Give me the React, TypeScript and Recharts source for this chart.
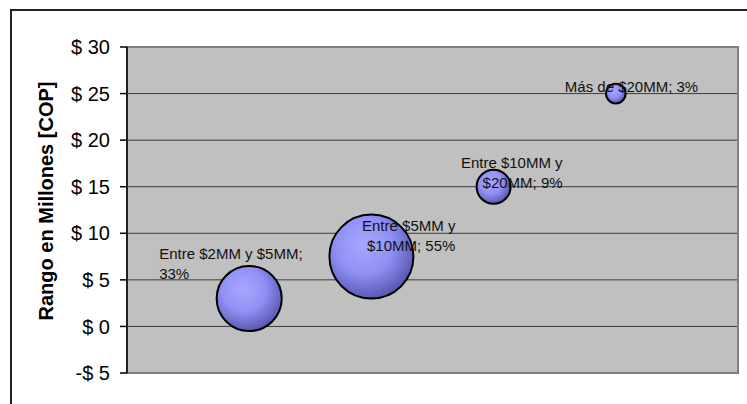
import {
  ScatterChart,
  Scatter,
  XAxis,
  YAxis,
  ZAxis,
  CartesianGrid,
  ReferenceArea,
} from 'recharts';

const CATEGORIES = [
  'Entre $2MM y $5MM',
  'Entre $5MM y $10MM',
  'Entre $10MM y $20MM',
  'Más de $20MM',
];
const X_POS = [1, 2, 3, 4];
const RANGE_MID = [3, 7.5, 15, 25];
const SHARE = [33, 55, 9, 3];
const Y_TICKS = [-5, 0, 5, 10, 15, 20, 25, 30];

// where each data label sits relative to its bubble centre
const LABEL_LAYOUT = [
  { dx: -90, dy: -39, anchor: 'start', breakAfter: 4 },
  { dx: 84, dy: -26, anchor: 'end', breakAfter: 3 },
  { dx: 69, dy: -19, anchor: 'end', breakAfter: 3 },
  { dx: -51, dy: -2, anchor: 'start', breakAfter: 0 },
];

const FONT = '"Liberation Sans", Arial, sans-serif';
const MAX_R = 42;

const data = CATEGORIES.map((name, i) => ({
  i,
  name,
  x: X_POS[i],
  y: RANGE_MID[i],
  z: SHARE[i],
}));

const formatMoney = (v: number) => (v < 0 ? `-$ ${-v}` : `$ ${v}`);

const Bubble = (props: any) => {
  const { cx, cy } = props;
  const r = props.width ? props.width / 2 : Math.sqrt((props.size ?? 0) / Math.PI);
  return (
    <circle cx={cx} cy={cy} r={r} fill="url(#bubbleFill)" stroke="#000" strokeWidth={2} />
  );
};

const BubbleLabel = (props: any) => {
  const { cx, cy, payload } = props;
  if (!payload) return null;
  const layout = LABEL_LAYOUT[payload.i];
  const words = `${payload.name}; ${payload.z}%`.split(' ');
  const lines =
    layout.breakAfter > 0
      ? [words.slice(0, layout.breakAfter).join(' '), words.slice(layout.breakAfter).join(' ')]
      : [words.join(' ')];
  return (
    <text
      x={cx + layout.dx}
      y={cy + layout.dy}
      textAnchor={layout.anchor}
      fontFamily={FONT}
      fontSize={15}
      fill="#111"
    >
      {lines.map((line, k) => (
        <tspan key={k} x={cx + layout.dx} dy={k === 0 ? 0 : 20}>
          {line}
        </tspan>
      ))}
    </text>
  );
};

export default function App() {
  return (
    <div
      style={{
        position: 'absolute',
        left: 0,
        top: 0,
        width: 747,
        height: 404,
        overflow: 'hidden',
        background: '#fff',
      }}
    >
      <div
        style={{
          position: 'absolute',
          left: 10,
          top: 9,
          width: 800,
          height: 500,
          border: '2px solid #222',
        }}
      />
      <div style={{ position: 'absolute', left: 0, top: 0 }}>
        <ScatterChart width={747} height={404} margin={{ top: 47, right: 9, bottom: 31, left: 0 }}>
          <defs>
            <radialGradient id="bubbleFill" cx="42%" cy="38%" r="62%" fx="40%" fy="35%">
              <stop offset="0%" stopColor="#a8a8ff" />
              <stop offset="55%" stopColor="#9090f4" />
              <stop offset="100%" stopColor="#5a5ab4" />
            </radialGradient>
          </defs>
          <CartesianGrid
            vertical={false}
            stroke="#3c3c3c"
            strokeWidth={1}
            fill="#c0c0c0"
            fillOpacity={1}
          />
          <ReferenceArea
            x1={0}
            x2={5}
            y1={-5}
            y2={30}
            fill="none"
            stroke="#808080"
            strokeWidth={2}
          />
          <XAxis type="number" dataKey="x" domain={[0, 5]} hide />
          <YAxis
            type="number"
            dataKey="y"
            domain={[-5, 30]}
            ticks={Y_TICKS}
            interval={0}
            width={127}
            tickFormatter={formatMoney}
            tickSize={7}
            tickMargin={10}
            axisLine={{ stroke: '#000', strokeWidth: 1.5 }}
            tickLine={{ stroke: '#000', strokeWidth: 1.5 }}
            tick={{ fill: '#000', fontSize: 20, fontFamily: FONT }}
            label={{
              content: () => (
                <text
                  x={53}
                  y={201}
                  transform="rotate(-90, 53, 201)"
                  textAnchor="middle"
                  fontFamily={FONT}
                  fontSize={20}
                  fontWeight="bold"
                  fill="#000"
                >
                  Rango en Millones [COP]
                </text>
              ),
            }}
          />
          <ZAxis type="number" dataKey="z" domain={[0, 55]} range={[0, Math.PI * MAX_R * MAX_R]} />
          <Scatter data={data} shape={<Bubble />} isAnimationActive={false} />
          <Scatter data={data} shape={<BubbleLabel />} isAnimationActive={false} />
        </ScatterChart>
      </div>
    </div>
  );
}
